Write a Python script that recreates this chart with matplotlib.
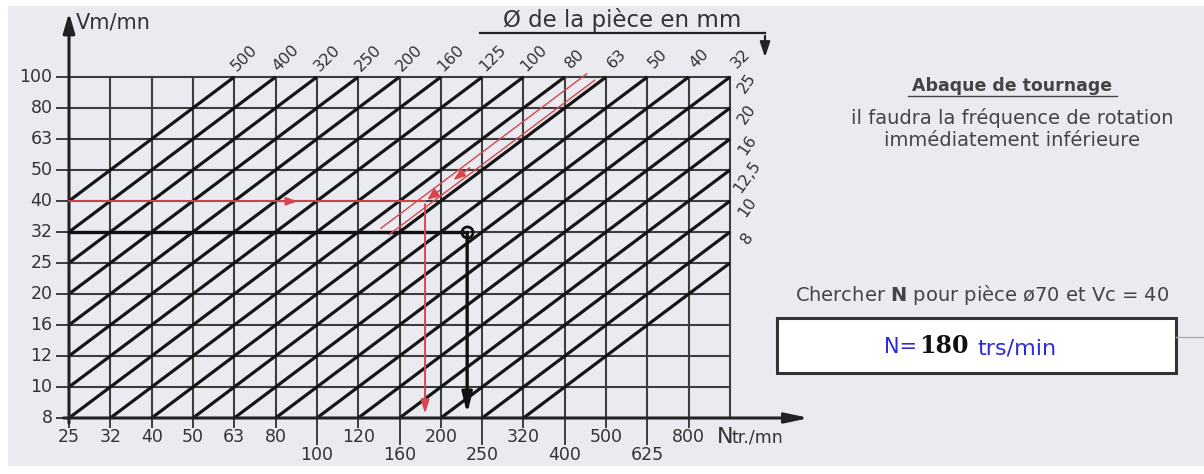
import numpy as np
import matplotlib
matplotlib.use("Agg")
import matplotlib.pyplot as plt
from matplotlib.patches import Rectangle

# speeds (rows, bottom to top) and spindle speeds (columns, left to right)
v_labels = ["8", "10", "12", "16", "20", "25", "32", "40", "50", "63", "80", "100"]
n_top = ["25", "32", "40", "50", "63", "80", "", "120", "", "200", "", "320", "", "500", "", "800"]
n_low = ["", "", "", "", "", "", "100", "", "160", "", "250", "", "400", "", "625", ""]
# diameters of the oblique lines
d_top = [500, 400, 320, 250, 200, 160, 125, 100, 80, 63, 50, 40, 32]
d_right = [25, 20, 16, 12.5, 10, 8]
d_right_txt = ["25", "20", "16", "12,5", "10", "8"]

# worked examples
red_D, red_V = 70, 40
blk_N, blk_V = 230, 32

W, H = 1204, 474
sx, sy = 41.3125, 31.0     # pixels per grid step
x0, y0 = 69, 418           # pixel of the (25, 8) corner


def xi(n):
    return 10 * np.log10(n / 25.0)


def yi(v):
    return 10 * np.log10(v / 8.0)


def offset(d):
    # y = x + offset for V = pi*D*N/1000, in grid steps
    return 10 * np.log10(np.pi * d * 25 / (1000 * 8.0))


def fx(px):
    return px / W


def fy(py):
    return 1 - py / H


fig = plt.figure(figsize=(W / 100, H / 100), dpi=100)
fig.patch.set_facecolor("white")
ax = fig.add_axes([0, 0, 1, 1])
ax.set_xlim(-x0 / sx, (W - x0) / sx)
ax.set_ylim(-(H - y0) / sy, y0 / sy)
ax.axis("off")

fig.add_artist(Rectangle((fx(8), fy(466)), 1 - fx(8), fy(6) - fy(466),
                         transform=fig.transFigure, facecolor="#eaebf1", edgecolor="none", zorder=0))

nx, ny = len(n_top), len(v_labels) - 1
gc = "#3d3d3d"
for i in range(1, nx + 1):
    ax.plot([i, i], [0, ny], color=gc, lw=1.5, zorder=2)
for j in range(1, ny + 1):
    ax.plot([0, nx], [j, j], color=gc, lw=1.5, zorder=2)

# oblique lines
for d in d_top + d_right:
    c = -round(offset(d))
    xs, ys = max(0, c), max(0, -c)
    xe = min(nx, ny + c)
    ax.plot([xs, xe], [ys, xe - c], color="#151515", lw=2.3, solid_capstyle="butt", zorder=3)

# axes with arrows
ax.annotate("", xy=(0, (y0 - 10) / sy), xytext=(0, -0.25),
            arrowprops=dict(arrowstyle="-|>,head_length=1.2,head_width=0.35", color="#222222", lw=2.2), zorder=4)
ax.annotate("", xy=((812 - x0) / sx, 0), xytext=(-0.2, 0),
            arrowprops=dict(arrowstyle="-|>,head_length=1.4,head_width=0.3", color="#222222", lw=2.2), zorder=4)

tc = "#333333"
for j, lab in enumerate(v_labels):
    ax.plot([-0.3, 0], [j, j], color=gc, lw=1.4)
    ax.text(-0.4, j, lab, ha="right", va="center", fontsize=12.5, color=tc)
for i in range(nx):
    if n_top[i]:
        ax.plot([i, i], [0, -0.3], color=gc, lw=1.4)
        ax.text(i, -0.62, n_top[i], ha="center", va="center", fontsize=12.5, color=tc)
    if n_low[i]:
        ax.plot([i, i], [0, -0.85], color=gc, lw=1.4)
        ax.text(i, -1.2, n_low[i], ha="center", va="center", fontsize=12.5, color=tc)

fig.text(fx(717), fy(437), "N", fontsize=16, color=tc, ha="left", va="center")
fig.text(fx(732), fy(438), "tr./mn", fontsize=12.5, color=tc, ha="left", va="center")
fig.text(fx(76), fy(22), "Vm/mn", fontsize=15, color=tc, ha="left", va="center")

# diameter labels
for d in d_top:
    c = -round(offset(d))
    ax.text(ny + c + 0.25, ny + 0.6, str(d), rotation=45, ha="center", va="center",
            fontsize=11.5, color=tc)
for d, t in zip(d_right, d_right_txt):
    c = -round(offset(d))
    ax.text(nx + 0.42, nx - c + 0.8, t, rotation=55, ha="center", va="center",
            fontsize=11.5, color=tc)

fig.text(fx(622), fy(20), "Ø de la pièce en mm", fontsize=16.5, color=tc, ha="center", va="center")
ax.plot([(480 - x0) / sx, (765 - x0) / sx], [(y0 - 33) / sy] * 2, color="#222222", lw=1.6, clip_on=False)
ax.annotate("", xy=((765 - x0) / sx, (y0 - 60) / sy), xytext=((765 - x0) / sx, (y0 - 33) / sy),
            arrowprops=dict(arrowstyle="-|>,head_length=0.9,head_width=0.3", color="#222222", lw=1.6))

# red worked example
rc = "#d9454a"
rx, ry = xi(1000 * red_V / (np.pi * red_D)), yi(red_V)
ro = offset(red_D)
ax.plot([0, rx], [ry, ry], color=rc, lw=1.3, zorder=5)
ax.annotate("", xy=(5.6, ry), xytext=(5.0, ry),
            arrowprops=dict(arrowstyle="-|>,head_length=0.7,head_width=0.25", color=rc, lw=1.2), zorder=5)
ax.annotate("", xy=(rx, 0.05), xytext=(rx, ry),
            arrowprops=dict(arrowstyle="-|>,head_length=0.8,head_width=0.25", color=rc, lw=1.4), zorder=5)
xa, xb = ny - ro, 7.65
for dd in (-0.1, 0.1):
    ax.plot([xa + dd, xb + dd], [xa + ro - dd, xb + ro - dd], color=rc, lw=1.0, zorder=5)
ax.annotate("", xy=(9.25, 9.25 + ro), xytext=(9.75, 9.75 + ro),
            arrowprops=dict(arrowstyle="-|>,head_length=0.7,head_width=0.25", color=rc, lw=1.2), zorder=5)
ax.annotate("", xy=(rx, ry), xytext=(rx + 0.4, ry + 0.4),
            arrowprops=dict(arrowstyle="-|>,head_length=0.7,head_width=0.3", color=rc, lw=1.2), zorder=5)

# black worked example
bx, by = xi(blk_N), round(yi(blk_V))
ax.plot([0, bx], [by, by], color="#111111", lw=2.4, zorder=4)
ax.annotate("", xy=(bx, 0.05), xytext=(bx, by),
            arrowprops=dict(arrowstyle="-|>,head_length=1.2,head_width=0.3", color="#111111", lw=2.4), zorder=5)
ax.plot([bx], [by], marker="o", ms=8, mfc="none", mec="#111111", mew=2, zorder=5)

# right panel
fig.text(fx(1012), fy(86), "Abaque de tournage", fontsize=12.5, fontweight="bold", color="#444444",
         ha="center", va="center")
fig.add_artist(plt.Line2D([fx(908), fx(1117)], [fy(96), fy(96)], color="#444444", lw=1.0))
fig.text(fx(1012), fy(118), "il faudra la fréquence de rotation", fontsize=14, color="#444444",
         ha="center", va="center")
fig.text(fx(1012), fy(140), "immédiatement inférieure", fontsize=14, color="#444444",
         ha="center", va="center")
fig.text(fx(982), fy(295), r"Chercher $\mathbf{N}$ pour pièce ø70 et Vc = 40", fontsize=14,
         color="#444444", ha="center", va="center")

fig.add_artist(plt.Line2D([fx(1176), fx(1204)], [fy(337), fy(337)], color="#aaaaaa", lw=1.0))
fig.add_artist(Rectangle((fx(777), fy(373)), fx(1176) - fx(777), fy(318) - fy(373),
                         transform=fig.transFigure, facecolor="white", edgecolor="#333333", lw=2.2))
fig.text(fx(884), fy(347), "N=", fontsize=15, color="#2b2bd6", ha="left", va="center")
fig.text(fx(919), fy(346), "180", fontsize=17, fontweight="bold", family="DejaVu Serif",
         color="#111111", ha="left", va="center")
fig.text(fx(977), fy(348), "trs/min", fontsize=16, color="#2b2bd6", ha="left", va="center")

fig.savefig("out.png", dpi=100, facecolor=fig.get_facecolor())
